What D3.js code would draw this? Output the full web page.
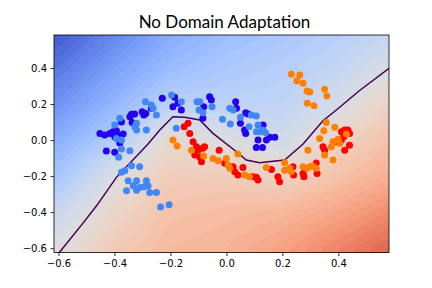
<!DOCTYPE html>
<html>
<head>
<meta charset="utf-8">
<script src="https://cdn.jsdelivr.net/npm/d3@7"></script>
<style>
  body { margin: 0; background: #fff; }
  #chart { width: 432px; height: 288px; }
</style>
</head>
<body>
<div id="chart"></div>
<script>
var width = 432, height = 288;
var plot = {left: 54, right: 389, top: 35, bottom: 252.5};

var xDomain = [-0.616, 0.581];
var yDomain = [-0.624, 0.583];
var xTicks = [-0.6, -0.4, -0.2, 0.0, 0.2, 0.4];
var yTicks = [-0.6, -0.4, -0.2, 0.0, 0.2, 0.4];

// source domain, class 0 (blue)
var sourceClass0 = [[-0.452,0.037],[-0.435,0.028],[-0.417,0.037],[-0.405,0.046],[-0.393,0.052],[-0.387,0.028],[-0.369,0.033],[-0.399,0.018],[-0.375,0.100],[-0.345,0.129],[-0.337,0.098],[-0.339,0.143],[-0.328,0.144],[-0.301,0.157],[-0.295,0.139],[-0.288,0.148],[-0.268,0.176],[-0.229,0.232],[-0.185,0.237],[-0.191,0.185],[-0.161,0.167],[-0.173,0.204],[-0.060,0.241],[-0.054,0.222],[-0.081,0.185],[-0.084,0.121],[0.033,0.213],[0.036,0.176],[0.069,0.152],[0.077,0.144],[0.050,0.093],[0.065,0.056],[0.069,0.037],[0.131,0.083],[0.113,0.000],[0.143,0.000],[0.155,0.015],[0.173,0.015],[0.107,-0.041],[0.129,-0.041],[-0.429,-0.061],[-0.399,-0.068],[-0.381,-0.017]];
// source domain, class 1 (red)
var sourceClass1 = [[-0.137,0.093],[-0.151,0.074],[-0.131,0.037],[-0.119,-0.009],[-0.107,-0.037],[-0.101,-0.056],[-0.113,-0.083],[-0.089,-0.121],[-0.095,-0.096],[-0.078,-0.037],[-0.084,-0.046],[-0.026,-0.056],[-0.006,-0.129],[0.024,-0.148],[0.030,-0.176],[0.041,-0.194],[0.059,-0.152],[0.095,-0.204],[0.107,-0.207],[0.113,-0.222],[0.161,-0.163],[0.184,-0.204],[0.190,-0.232],[0.238,-0.148],[0.240,-0.194],[0.274,-0.185],[0.277,-0.204],[0.321,-0.128],[0.324,-0.185],[0.345,-0.037],[0.351,-0.056],[0.393,-0.009],[0.411,0.000],[0.423,-0.056],[0.440,-0.029],[0.411,0.046],[0.423,0.056],[0.434,0.056],[0.440,0.037],[0.419,0.018]];
// target domain, class 0 (light blue)
var targetClass0 = [[-0.196,0.250],[-0.289,0.213],[-0.268,0.194],[-0.262,0.176],[-0.250,0.139],[-0.161,0.213],[-0.105,0.213],[-0.095,0.213],[-0.098,0.167],[-0.084,0.152],[-0.051,0.185],[0.012,0.176],[0.024,0.167],[-0.014,0.115],[0.014,0.089],[0.050,0.126],[0.089,0.139],[0.107,0.133],[0.081,0.074],[0.113,0.083],[0.107,0.046],[0.119,0.046],[0.131,0.056],[0.140,0.041],[-0.321,0.093],[-0.327,0.074],[-0.321,0.056],[-0.286,0.056],[-0.179,0.065],[-0.399,0.083],[-0.381,0.121],[-0.393,0.009],[-0.375,0.000],[-0.375,-0.050],[-0.385,-0.096],[-0.345,-0.059],[-0.339,-0.143],[-0.310,-0.148],[-0.363,-0.171],[-0.375,-0.179],[-0.321,-0.226],[-0.351,-0.226],[-0.333,-0.254],[-0.357,-0.282],[-0.310,-0.263],[-0.286,-0.226],[-0.280,-0.254],[-0.274,-0.291],[-0.250,-0.291],[-0.235,-0.371],[-0.205,-0.359],[-0.321,-0.278],[-0.294,-0.259]];
// target domain, class 1 (orange)
var targetClass1 = [[0.232,0.365],[0.262,0.361],[0.252,0.329],[0.274,0.315],[0.288,0.272],[0.298,0.267],[0.351,0.282],[0.359,0.244],[0.289,0.204],[0.313,0.191],[0.357,0.098],[0.387,0.071],[0.348,0.052],[0.333,0.009],[0.429,0.033],[0.399,0.004],[0.381,-0.009],[0.405,-0.018],[0.375,-0.037],[0.291,-0.056],[0.351,-0.083],[0.381,-0.111],[0.208,-0.126],[0.208,-0.167],[0.226,-0.157],[0.232,-0.176],[0.274,-0.148],[0.286,-0.157],[0.298,-0.148],[0.307,-0.144],[0.321,-0.157],[0.143,-0.152],[0.065,-0.194],[0.083,-0.204],[0.012,-0.157],[0.041,-0.078],[0.000,-0.102],[0.006,-0.139],[-0.048,-0.102],[-0.030,-0.115],[-0.081,-0.089],[-0.125,-0.056],[-0.176,-0.033],[-0.191,0.000]];

// decision boundary (0.5 level)
var boundaryX = [-0.597,-0.518,-0.464,-0.393,-0.280,-0.238,-0.191,-0.149,-0.095,-0.048,0.036,0.071,0.119,0.208,0.274,0.345,0.393,0.476,0.581];
var boundaryY = [-0.624,-0.472,-0.365,-0.207,-0.022,0.056,0.129,0.126,0.111,0.037,-0.065,-0.111,-0.126,-0.111,-0.022,0.107,0.167,0.275,0.398];

var fieldX = [-0.6, -0.4, -0.2, 0.0, 0.2, 0.4, 0.6];
var fieldY = [0.6, 0.4, 0.2, 0.0, -0.2, -0.4, -0.6];
var fieldValues = [
  [0.03, 0.13, 0.23, 0.29, 0.33, 0.37, 0.41],
  [0.10, 0.20, 0.29, 0.34, 0.37, 0.41, 0.49],
  [0.17, 0.27, 0.38, 0.39, 0.40, 0.47, 0.57],
  [0.25, 0.36, 0.54, 0.49, 0.45, 0.56, 0.64],
  [0.33, 0.49, 0.59, 0.59, 0.56, 0.63, 0.70],
  [0.43, 0.55, 0.63, 0.65, 0.67, 0.72, 0.79],
  [0.50, 0.60, 0.66, 0.68, 0.73, 0.80, 0.87]
];

var coolwarmStops = ["#3b4cc0","#445acc","#4d68d7","#5775e1","#6282ea","#6c8ef1","#779af7","#82a5fb","#8db0fe","#98b9ff","#a3c2ff","#aec9fd","#b8d0f9","#c2d5f4","#ccd9ee","#d5dbe6","#dddddd","#e5d8d1","#ecd3c5","#f1ccb9","#f5c4ad","#f7bba0","#f7b194","#f7a687","#f49a7b","#f18d6f","#ec7f63","#e57058","#de604d","#d55042","#cb3e38","#c0282f","#b40426"];

var svg = d3.select("#chart").append("svg")
    .attr("width", width)
    .attr("height", height);

var x = d3.scaleLinear().domain(xDomain).range([plot.left, plot.right]);
var y = d3.scaleLinear().domain(yDomain).range([plot.bottom, plot.top]);

var coolwarm = d3.scaleLinear()
    .domain(coolwarmStops.map(function(d, i) { return i / (coolwarmStops.length - 1); }))
    .range(coolwarmStops)
    .clamp(true);

svg.append("clipPath").attr("id", "clip")
  .append("rect")
    .attr("x", plot.left).attr("y", plot.top)
    .attr("width", plot.right - plot.left)
    .attr("height", plot.bottom - plot.top);

// bilinear lookup into the coarse grid
var colIndex = d3.scaleLinear().domain(fieldX).range(d3.range(fieldX.length)).clamp(true);
var rowIndex = d3.scaleLinear().domain(fieldY).range(d3.range(fieldY.length)).clamp(true);
function fieldAt(px, py) {
  var ci = colIndex(px), ri = rowIndex(py);
  var c0 = Math.min(Math.floor(ci), fieldX.length - 2), r0 = Math.min(Math.floor(ri), fieldY.length - 2);
  var tc = ci - c0, tr = ri - r0;
  var a = fieldValues[r0][c0] * (1 - tc) + fieldValues[r0][c0 + 1] * tc;
  var b = fieldValues[r0 + 1][c0] * (1 - tc) + fieldValues[r0 + 1][c0 + 1] * tc;
  return a * (1 - tr) + b * tr;
}

var nx = 120, ny = 90;
var dxs = (xDomain[1] - xDomain[0]) / (nx - 1);
var dys = (yDomain[1] - yDomain[0]) / (ny - 1);
var values = new Array(nx * ny);
for (var j = 0; j < ny; j++) {
  for (var i = 0; i < nx; i++) {
    values[j * nx + i] = fieldAt(xDomain[0] + i * dxs, yDomain[1] - j * dys);
  }
}

var step = 0.02;
var thresholds = d3.range(0, 1, step);
var contours = d3.contours().size([nx, ny]).thresholds(thresholds)(values);

var gridToPlot = d3.geoTransform({
  point: function(gx, gy) {
    this.stream.point(x(xDomain[0] + (gx - 0.5) * dxs), y(yDomain[1] - (gy - 0.5) * dys));
  }
});

var body = svg.append("g").attr("clip-path", "url(#clip)");

body.append("g")
  .selectAll("path")
  .data(contours)
  .enter().append("path")
    .attr("d", d3.geoPath(gridToPlot))
    .attr("fill", function(d) { return coolwarm(d.value + step / 2); })
    .attr("stroke", function(d) { return coolwarm(d.value + step / 2); })
    .attr("stroke-width", 0.3);

var line = d3.line()
    .x(function(d, i) { return x(boundaryX[i]); })
    .y(function(d, i) { return y(boundaryY[i]); });

body.append("path")
    .datum(boundaryX)
    .attr("d", line)
    .attr("fill", "none")
    .attr("stroke", "#440154")
    .attr("stroke-width", 1.5);

var groups = [
  {pts: sourceClass0, color: "#2400f0"},
  {pts: sourceClass1, color: "#ff0000"},
  {pts: targetClass0, color: "#4287f5"},
  {pts: targetClass1, color: "#ff8000"}
];

groups.forEach(function(g) {
  body.append("g")
    .selectAll("circle")
    .data(g.pts)
    .enter().append("circle")
      .attr("cx", function(d) { return x(d[0]); })
      .attr("cy", function(d) { return y(d[1]); })
      .attr("r", 3.5)
      .attr("fill", g.color);
});

// axes
var fmt = d3.format(".1f");
var xAxis = svg.append("g")
    .attr("transform", "translate(0," + plot.bottom + ")")
    .call(d3.axisBottom(x).tickValues(xTicks).tickFormat(fmt).tickSize(3.5).tickPadding(3.5));
var yAxis = svg.append("g")
    .attr("transform", "translate(" + plot.left + ",0)")
    .call(d3.axisLeft(y).tickValues(yTicks).tickFormat(fmt).tickSize(3.5).tickPadding(3.5));

[xAxis, yAxis].forEach(function(ax) {
  ax.select(".domain").remove();
  ax.selectAll("line").attr("stroke", "#000").attr("stroke-width", 0.8);
  ax.selectAll("text")
    .attr("fill", "#000")
    .style("font-family", "DejaVu Sans")
    .style("font-size", "10px");
});

svg.append("rect")
    .attr("x", plot.left).attr("y", plot.top)
    .attr("width", plot.right - plot.left)
    .attr("height", plot.bottom - plot.top)
    .attr("fill", "none")
    .attr("stroke", "#000")
    .attr("stroke-width", 0.8);

svg.append("text")
    .attr("x", (plot.left + plot.right) / 2 + 3)
    .attr("y", 27.5)
    .attr("text-anchor", "middle")
    .style("font-family", "Lato")
    .style("font-size", "17px")
    .attr("fill", "#000")
    .text("No Domain Adaptation");
</script>
</body>
</html>
